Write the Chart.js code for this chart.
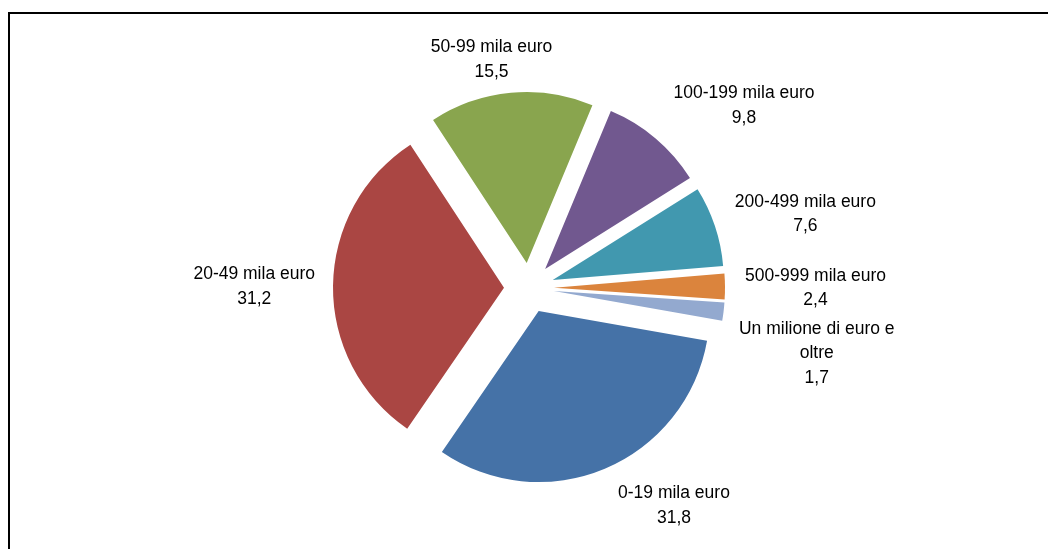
<!DOCTYPE html>
<html>
<head>
<meta charset="utf-8">
<script src="https://cdn.jsdelivr.net/npm/chart.js@4"></script>
<style>
    html, body { margin: 0; padding: 0; background: #fff; overflow: hidden; }
    #wrap { position: relative; width: 1048px; height: 549px; overflow: hidden; }
    #frame { position: absolute; left: 8px; top: 12px; width: 1100px; height: 600px; border: 2px solid #000; box-sizing: border-box; }
    #chart { position: absolute; left: 0; top: 0; }
</style>
</head>
<body>
<div id="wrap">
    <div id="frame"></div>
    <canvas id="chart" width="1048" height="549"></canvas>
</div>
<script>
// Classi di importo (quote percentuali)
const categories = [
    '0-19 mila euro',
    '20-49 mila euro',
    '50-99 mila euro',
    '100-199 mila euro',
    '200-499 mila euro',
    '500-999 mila euro',
    'Un milione di euro e oltre'
];
const shares = [31.8, 31.2, 15.5, 9.8, 7.6, 2.4, 1.7];
const colors = ['#4572A7', '#AA4643', '#89A54E', '#71588F', '#4198AF', '#DB843D', '#93A9CF'];

const EXPLODE = 25;        // distance each slice is pulled out
const LABEL_DIST = 205;    // label anchor distance from centre
const LINE_H = 24.5;
const FONT = '17.5px "Liberation Sans", Arial, sans-serif';
// small hand tweaks so labels sit where Excel put them
const labelNudge = [[44, 6], [-9, 1], [-13, 0], [37, -7], [15, -1], [11, 2], [7, 36]];

function wrapText(ctx, text, maxW) {
    const words = text.split(' ');
    const lines = [];
    let cur = '';
    words.forEach(w => {
        const test = cur ? cur + ' ' + w : w;
        if (ctx.measureText(test).width > maxW && cur) {
            lines.push(cur);
            cur = w;
        } else {
            cur = test;
        }
    });
    if (cur) lines.push(cur);
    return lines;
}

// draw slices pulled out from the centre
const explodePlugin = {
    id: 'explode',
    beforeDatasetDraw(chart, args) {
        const ctx = chart.ctx;
        args.meta.data.forEach(arc => {
            const mid = (arc.startAngle + arc.endAngle) / 2;
            ctx.save();
            ctx.translate(Math.cos(mid) * EXPLODE, Math.sin(mid) * EXPLODE);
            arc.draw(ctx);
            ctx.restore();
        });
        return false;
    }
};

// category + value labels outside each slice
const labelPlugin = {
    id: 'sliceLabels',
    afterDatasetsDraw(chart) {
        const ctx = chart.ctx;
        const meta = chart.getDatasetMeta(0);
        ctx.save();
        ctx.font = FONT;
        ctx.fillStyle = '#000';
        ctx.textAlign = 'center';
        ctx.textBaseline = 'middle';
        meta.data.forEach((arc, i) => {
            const mid = (arc.startAngle + arc.endAngle) / 2;
            const cx = Math.cos(mid), cy = Math.sin(mid);
            const lines = wrapText(ctx, categories[i], 165);
            lines.push(String(shares[i]).replace('.', ','));
            const w = Math.max(...lines.map(l => ctx.measureText(l).width));
            const h = lines.length * LINE_H;
            const x = arc.x + cx * LABEL_DIST + cx * w / 2 + labelNudge[i][0];
            const y = arc.y + cy * LABEL_DIST + cy * h / 2 + labelNudge[i][1];
            lines.forEach((l, k) => {
                ctx.fillText(l, x, y - h / 2 + LINE_H * (k + 0.5));
            });
        });
        ctx.restore();
    }
};

const ctx = document.getElementById('chart').getContext('2d');
new Chart(ctx, {
    type: 'pie',
    data: {
        labels: categories,
        datasets: [{
            data: shares,
            backgroundColor: colors,
            borderWidth: 0
        }]
    },
    options: {
        responsive: false,
        animation: false,
        rotation: 100,
        radius: 171,
        layout: { padding: { left: 10, top: 27, right: 0, bottom: 0 } },
        plugins: {
            legend: { display: false },
            tooltip: { enabled: false }
        }
    },
    plugins: [explodePlugin, labelPlugin]
});
</script>
</body>
</html>
